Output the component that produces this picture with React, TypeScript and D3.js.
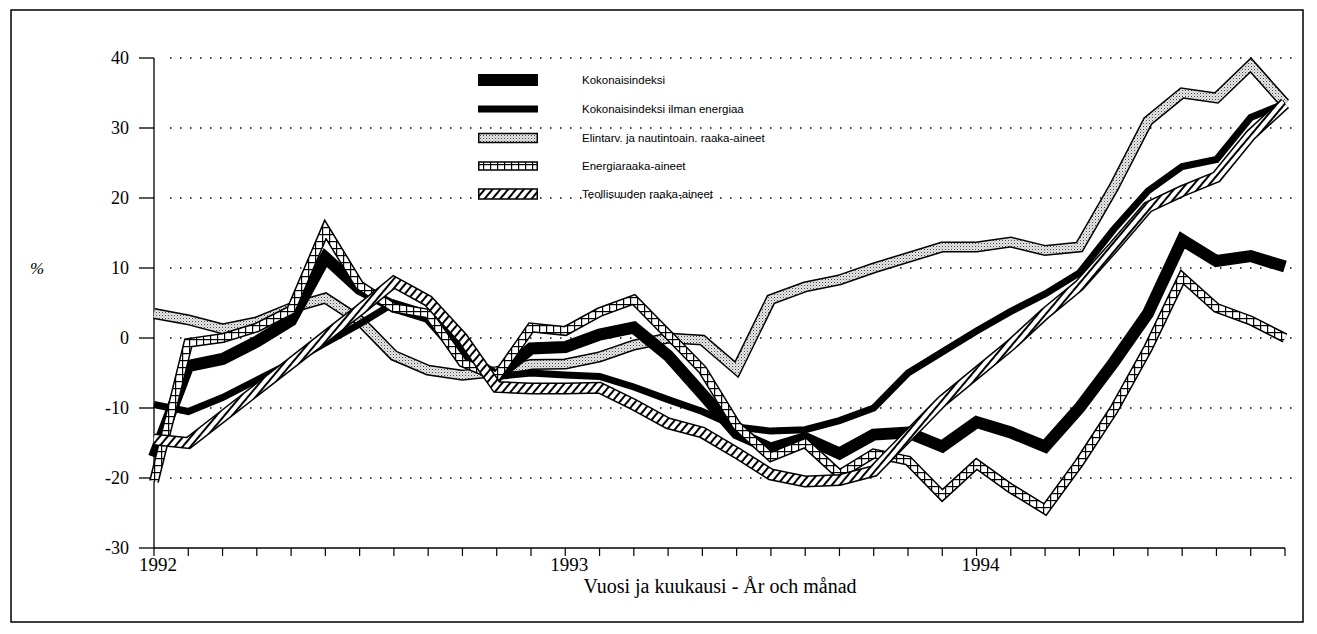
import React from "react";
import * as d3 from "d3";

const months = d3.range(0, 34);
const yearLabels = [
  { m: 0, label: "1992" },
  { m: 12, label: "1993" },
  { m: 24, label: "1994" },
];
const yTicks = [-30, -20, -10, 0, 10, 20, 30, 40];
const gridValues = [-20, -10, 0, 10, 20, 30, 40];

const kokonais = [-17, -4, -3, -0.5, 2.5, 11.5, 7, 4.5, 3, -2.5, -5.5, -1.5, -1.3, 0.5, 1.5, -2.5, -8, -13.6, -15.8, -14.3, -16.5, -13.8, -13.5, -15.5, -12, -13.5, -15.5, -10, -3.5, 3.5, 14, 11, 11.7, 10.2];
const ilmanEnergiaa = [-9.5, -10.5, -8.5, -6, -3.5, -0.7, 2, 5, 3.5, -2, -5.5, -5, -5.3, -5.5, -7, -8.8, -10.5, -12.7, -13.3, -13.1, -11.8, -10, -5, -2, 1, 3.8, 6.3, 9.3, 15.5, 21, 24.5, 25.5, 31.5, 33.5];
const elintarv = [3.5, 2.6, 1.3, 2.3, 4.3, 5.7, 2.5, -2.5, -4.6, -5.3, -4.8, -3.8, -3.7, -2.7, -1, 0, -0.3, -4.5, 5.5, 7.3, 8.3, 10, 11.5, 13, 13, 13.7, 12.5, 13, 21.5, 31, 35, 34.3, 39, 33.5];
const energia = [-20.5, -0.7, 0, 1.5, 4, 15.5, 7.5, 4.3, 3.5, -3.5, -5.5, 1.5, 1, 3.7, 5.5, 0.5, -4.5, -12.5, -17, -15, -19.5, -16.5, -17.5, -22.5, -18, -21.5, -24.5, -17.8, -10.3, -1.5, 8.7, 4.3, 2.5, 0];
const teollisuus = [-14.5, -15, -11.2, -7.4, -3.6, 0.2, 4, 8, 5.3, 0, -7, -7.2, -7.2, -7.1, -9.5, -12.2, -13.5, -16.4, -19.5, -20.5, -20.3, -19, -14, -9, -5, -1, 3.5, 7.5, 13, 18.7, 21, 23, 29, 33.5];

const legendLabels = [
  "Kokonaisindeksi",
  "Kokonaisindeksi ilman energiaa",
  "Elintarv. ja nautintoain. raaka-aineet",
  "Energiaraaka-aineet",
  "Teollisuuden raaka-aineet",
];

const x = d3.scaleLinear().domain([0, 33]).range([154, 1285]);
const y = d3.scaleLinear().domain([-30, 40]).range([548, 58]);
const line = d3
  .line<number>()
  .x((_, i) => x(i))
  .y((d) => y(d));

const serif = "'Liberation Serif', 'Times New Roman', serif";
const sans = "'Liberation Sans', Arial, sans-serif";

export default function App() {
  const legendX = 478;
  const legendW = 60;
  const legendRows = [80, 109, 138, 166, 194];
  const join = { strokeLinejoin: "miter" as const, strokeMiterlimit: 3, fill: "none" };
  return (
    <svg
      width={1317}
      height={634}
      style={{ position: "absolute", left: 0, top: 0, background: "#fff" }}
    >
      <defs>
        <pattern id="stipple" width="3" height="3" patternUnits="userSpaceOnUse">
          <rect width="3" height="3" fill="#e6e6e6" />
          <rect x="0" y="0" width="1" height="1" fill="#444" />
          <rect x="1.5" y="1.5" width="1" height="1" fill="#999" />
        </pattern>
        <pattern
          id="hatch"
          width="6"
          height="6"
          patternUnits="userSpaceOnUse"
          patternTransform="rotate(40)"
        >
          <rect width="6" height="6" fill="#fff" />
          <rect x="0" y="0" width="2" height="6" fill="#000" />
        </pattern>
        <pattern id="cross" width="7" height="7" patternUnits="userSpaceOnUse">
          <rect width="7" height="7" fill="#fff" />
          <rect x="0" y="0" width="1.2" height="7" fill="#000" />
          <rect x="0" y="3" width="7" height="1.2" fill="#000" />
        </pattern>
      </defs>

      {/* frame */}
      <rect x={11} y={10} width={1292} height={612} fill="none" stroke="#000" strokeWidth={1.5} />

      {/* grid */}
      {gridValues.map((v) => (
        <line
          key={v}
          x1={170}
          x2={1292}
          y1={y(v)}
          y2={y(v)}
          stroke="#000"
          strokeWidth={1.5}
          strokeDasharray="1.5 8.5"
        />
      ))}

      {/* y axis */}
      <line x1={x(0)} x2={x(0)} y1={y(40)} y2={y(-30)} stroke="#000" strokeWidth={1.3} />
      {yTicks.map((v) => (
        <g key={v}>
          <line x1={139} x2={x(0)} y1={y(v)} y2={y(v)} stroke="#000" strokeWidth={1.3} />
          <text x={129} y={y(v) + 6} textAnchor="end" fontFamily={serif} fontSize={18}>
            {v}
          </text>
        </g>
      ))}
      <text x={30} y={274} fontFamily={serif} fontSize={17} fontStyle="italic">
        %
      </text>

      {/* x axis */}
      <line x1={x(0)} x2={x(33)} y1={y(-30)} y2={y(-30)} stroke="#000" strokeWidth={1.3} />
      {months.map((m) => (
        <line
          key={m}
          x1={x(m)}
          x2={x(m)}
          y1={y(-30)}
          y2={y(-30) + 8}
          stroke="#000"
          strokeWidth={1.2}
        />
      ))}
      {yearLabels.map((d) => (
        <text
          key={d.label}
          x={x(d.m) + 4}
          y={571}
          textAnchor="middle"
          fontFamily={serif}
          fontSize={19}
        >
          {d.label}
        </text>
      ))}
      <text x={720} y={593} textAnchor="middle" fontFamily={serif} fontSize={20}>
        Vuosi ja kuukausi - År och månad
      </text>

      {/* series */}
      <path d={line(elintarv) || ""} {...join} stroke="#000" strokeWidth={11} />
      <path d={line(elintarv) || ""} {...join} stroke="url(#stipple)" strokeWidth={8} />

      <path d={line(ilmanEnergiaa) || ""} {...join} stroke="#000" strokeWidth={7} />

      <path d={line(kokonais) || ""} {...join} stroke="#000" strokeWidth={12} />

      <path d={line(energia) || ""} {...join} stroke="#000" strokeWidth={10} />
      <path d={line(energia) || ""} {...join} stroke="url(#cross)" strokeWidth={7} />

      <path d={line(teollisuus) || ""} {...join} stroke="#000" strokeWidth={12} />
      <path d={line(teollisuus) || ""} {...join} stroke="url(#hatch)" strokeWidth={9} />

      {/* legend */}
      {legendLabels.map((label, i) => {
        const cy = legendRows[i];
        let sw;
        if (i === 0) sw = <rect x={legendX} y={cy - 6} width={legendW} height={12} fill="#000" />;
        else if (i === 1) sw = <rect x={legendX} y={cy - 3.5} width={legendW} height={7} fill="#000" />;
        else if (i === 2)
          sw = <rect x={legendX + 0.75} y={cy - 4.5} width={legendW - 1.5} height={9} fill="url(#stipple)" stroke="#000" strokeWidth={1.5} />;
        else if (i === 3)
          sw = <rect x={legendX + 0.75} y={cy - 4} width={legendW - 1.5} height={8} fill="url(#cross)" stroke="#000" strokeWidth={1.5} />;
        else
          sw = <rect x={legendX + 0.75} y={cy - 5} width={legendW - 1.5} height={10} fill="url(#hatch)" stroke="#000" strokeWidth={1.5} />;
        return (
          <g key={label}>
            {sw}
            <text x={582} y={cy + 4} fontFamily={sans} fontSize={11.5}>
              {label}
            </text>
          </g>
        );
      })}
    </svg>
  );
}
